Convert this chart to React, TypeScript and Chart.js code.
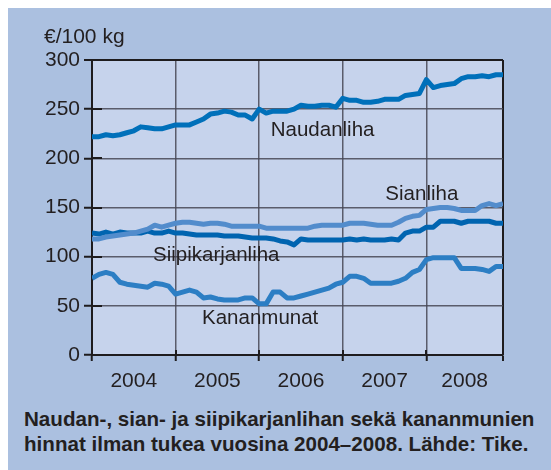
import React, { useEffect, useRef } from 'react';
import { Chart, registerables } from 'chart.js';

Chart.register(...registerables);

// ---- data (monthly, Jan 2004 .. Dec 2008) ----
const years = ['2004', '2005', '2006', '2007', '2008'];
const yearBoundaries = [0, 12, 24, 36, 48, 59];
const yTickValues = [0, 50, 100, 150, 200, 250, 300];

const naudanliha = [
  222, 222, 224, 223, 224, 226, 228, 232, 231, 230, 230, 232,
  234, 234, 234, 237, 240, 245, 246, 248, 247, 244, 244, 240,
  250, 246, 248, 248, 248, 250, 254, 253, 253, 254, 254, 252,
  261, 259, 259, 257, 257, 258, 260, 260, 260, 264, 265, 266,
  280, 272, 274, 275, 276, 281, 283, 283, 284, 283, 285, 285,
];
const sianliha = [
  118, 118, 120, 121, 122, 123, 124, 126, 128, 132, 130, 132,
  134, 135, 135, 134, 133, 134, 134, 133, 131, 131, 131, 131,
  131, 129, 129, 129, 129, 129, 129, 129, 131, 132, 132, 132,
  132, 134, 134, 134, 133, 132, 132, 132, 135, 139, 141, 142,
  148, 149, 150, 150, 149, 147, 147, 147, 152, 154, 152, 154,
];
const siipikarjanliha = [
  124, 123, 125, 123, 125, 124, 124, 124, 126, 124, 124, 126,
  124, 124, 123, 122, 122, 122, 122, 121, 121, 121, 120, 119,
  119, 119, 118, 116, 115, 112, 118, 117, 117, 117, 117, 117,
  117, 118, 117, 118, 117, 117, 117, 118, 117, 124, 126, 126,
  130, 130, 136, 136, 136, 134, 136, 136, 136, 136, 134, 134,
];
const kananmunat = [
  78, 82, 84, 82, 74, 72, 71, 70, 69, 73, 72, 70,
  62, 64, 66, 64, 58, 59, 57, 56, 56, 56, 58, 58,
  52, 52, 64, 64, 58, 58, 60, 62, 64, 66, 68, 72,
  74, 80, 80, 78, 73, 73, 73, 73, 75, 78, 84, 87,
  97, 99, 99, 99, 99, 88, 88, 88, 87, 85, 90, 90,
];
const seriesNames = ['Naudanliha', 'Sianliha', 'Siipikarjanliha', 'Kananmunat'];

// ---- styling ----
const FONT = '"Liberation Sans", Arial, Helvetica, sans-serif';
const TEXT = '#231f20';
const PANEL_BG = 'rgb(171,192,224)';
const PLOT_BG = 'rgb(198,211,236)';
const GRID = 'rgba(70,70,85,0.85)';
const AXIS = '#1e1c1e';
const COLORS = ['rgb(0,112,186)', 'rgb(82,140,204)', 'rgb(0,100,176)', 'rgb(44,126,196)'];
// label anchor points in data space (month index, value at text baseline)
const LABEL_ANCHORS: [number, number][] = [
  [33.1, 223],
  [47.35, 158],
  [17.84, 95.7],
  [24.14, 31.5],
];

const toPoints = (arr: number[]) => arr.map((v, i) => ({ x: i, y: v }));

const decorPlugin = {
  id: 'decor',
  beforeDraw(chart: any) {
    const { ctx, chartArea: a } = chart;
    ctx.save();
    ctx.fillStyle = PLOT_BG;
    ctx.fillRect(a.left, a.top, a.right - a.left, a.bottom - a.top);
    ctx.restore();
  },
  afterDraw(chart: any) {
    const { ctx, chartArea: a, scales } = chart;
    ctx.save();
    ctx.strokeStyle = AXIS;
    ctx.lineWidth = 2;
    yTickValues.forEach((v) => {
      if (v === 0) return;
      const y = Math.round(scales.y.getPixelForValue(v));
      ctx.beginPath();
      ctx.moveTo(a.left, y);
      ctx.lineTo(a.left + 10, y);
      ctx.stroke();
    });
    yearBoundaries.forEach((v) => {
      if (v === 0) return;
      const x = Math.round(scales.x.getPixelForValue(v));
      ctx.beginPath();
      ctx.moveTo(x, a.bottom);
      ctx.lineTo(x, a.bottom - 5);
      ctx.stroke();
    });
    ctx.fillStyle = TEXT;
    ctx.font = `21px ${FONT}`;
    ctx.textAlign = 'left';
    ctx.textBaseline = 'alphabetic';
    ctx.fillText('€/100 kg', 36, 35);
    ctx.font = `21px ${FONT}`;
    ctx.textAlign = 'center';
    ctx.textBaseline = 'middle';
    years.forEach((yr, i) => {
      const start = yearBoundaries[i];
      const end = yearBoundaries[i + 1];
      const cx = scales.x.getPixelForValue((start + end) / 2);
      ctx.fillText(yr, cx, a.bottom + 26);
    });
    ctx.font = `20.5px ${FONT}`;
    ctx.textBaseline = 'alphabetic';
    seriesNames.forEach((name, i) => {
      const [mx, vy] = LABEL_ANCHORS[i];
      ctx.fillText(name, scales.x.getPixelForValue(mx), scales.y.getPixelForValue(vy));
    });
    ctx.restore();
  },
};

export default function App() {
  const canvasRef = useRef<HTMLCanvasElement | null>(null);

  useEffect(() => {
    if (!canvasRef.current) return;
    const series = [naudanliha, sianliha, siipikarjanliha, kananmunat];
    const chart = new Chart(canvasRef.current, {
      type: 'line',
      data: {
        datasets: series.map((arr, i) => ({
          label: seriesNames[i],
          data: toPoints(arr),
          borderColor: COLORS[i],
          backgroundColor: COLORS[i],
          borderWidth: 5,
          pointRadius: 0,
          tension: 0,
          borderJoinStyle: 'round' as const,
          borderCapStyle: 'butt' as const,
          fill: false,
        })),
      },
      options: {
        responsive: false,
        animation: false,
        devicePixelRatio: 1,
        layout: { padding: { left: 0, right: 48, top: 52, bottom: 0 } },
        plugins: { legend: { display: false }, tooltip: { enabled: false }, title: { display: false } },
        scales: {
          x: {
            type: 'linear',
            min: 0,
            max: 59,
            afterBuildTicks: (scale: any) => {
              scale.ticks = yearBoundaries.map((v) => ({ value: v }));
            },
            afterFit: (scale: any) => {
              scale.height = 48;
            },
            ticks: { display: false },
            grid: {
              color: (c: any) => (c.tick && c.tick.value === 59 ? AXIS : GRID),
              lineWidth: (c: any) => (c.tick && c.tick.value === 59 ? 2 : 1.5),
              tickColor: AXIS,
              tickWidth: 2,
              tickLength: 6,
            },
            border: { display: true, color: AXIS, width: 2 },
          },
          y: {
            type: 'linear',
            min: 0,
            max: 300,
            afterBuildTicks: (scale: any) => {
              scale.ticks = yTickValues.map((v) => ({ value: v }));
            },
            afterFit: (scale: any) => {
              scale.width = 84;
            },
            ticks: {
              color: TEXT,
              font: { family: FONT, size: 21 },
              padding: 4,
            },
            grid: {
              color: (c: any) => (c.tick && c.tick.value === 300 ? AXIS : GRID),
              lineWidth: (c: any) => (c.tick && c.tick.value === 300 ? 2 : 1.5),
              tickColor: AXIS,
              tickWidth: 2,
              tickLength: 8,
            },
            border: { display: true, color: AXIS, width: 2 },
          },
        },
      },
      plugins: [decorPlugin],
    });
    return () => chart.destroy();
  }, []);

  return (
    <div
      style={{
        position: 'absolute',
        left: 8,
        top: 8,
        width: 543,
        height: 462,
        background: PANEL_BG,
        overflow: 'hidden',
      }}
    >
      <canvas ref={canvasRef} width={543} height={395} style={{ display: 'block' }} />
      <div
        style={{
          position: 'absolute',
          left: 16,
          top: 398,
          fontFamily: FONT,
          fontWeight: 'bold',
          fontSize: '20.6px',
          lineHeight: '25px',
          color: TEXT,
          whiteSpace: 'nowrap',
        }}
      >
        Naudan-, sian- ja siipikarjanlihan sekä kananmunien
        <br />
        hinnat ilman tukea vuosina 2004–2008. Lähde: Tike.
      </div>
    </div>
  );
}
